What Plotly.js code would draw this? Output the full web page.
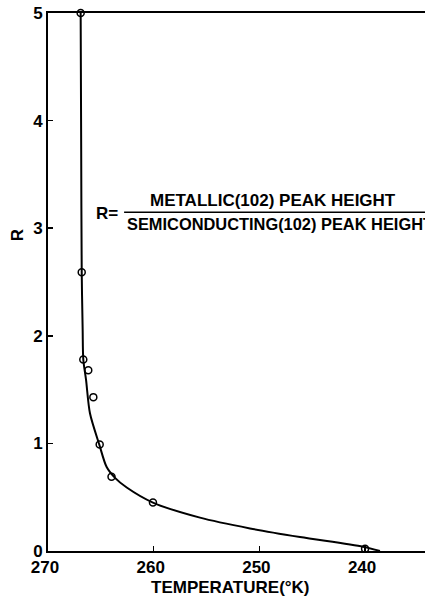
<!DOCTYPE html>
<html>
<head>
<meta charset="utf-8">
<script src="https://cdn.plot.ly/plotly-3.0.1.min.js"></script>
<style>html,body{margin:0;padding:0;background:#fff;}#chart{width:425px;height:596px;}</style>
</head>
<body>
<div id="chart"></div>
<script>
// Measured points (open circles)
const pointTemp = [266.91, 266.81, 266.66, 266.19, 265.71, 265.11, 263.99, 260.07, 240.0];
const pointR    = [5.0,    2.59,   1.78,   1.68,   1.43,   0.99,   0.69,   0.45,   0.02];

// Hand-drawn smooth curve
const curveTemp = [266.91, 266.86, 266.81, 266.72, 266.66, 266.40, 266.03, 265.15, 264.45, 263.66, 262.55, 260.07, 255.62, 250.89, 246.16, 240.20, 238.59];
const curveR    = [5.0,    3.73,   2.59,   2.05,   1.78,   1.59,   1.28,   0.99,   0.78,   0.68,   0.59,   0.45,   0.31,   0.21,   0.13,   0.04,   0.0];

const xTicks = [270, 260, 250, 240];
const yTicks = [0, 1, 2, 3, 4, 5];

const numeratorText = "METALLIC(102) PEAK HEIGHT";
const denominatorText = "SEMICONDUCTING(102) PEAK HEIGHT";
const xTitle = "TEMPERATURE(°K)";
const yTitle = "R";

const FONT = "Liberation Sans, Arial, sans-serif";

const traces = [
  {
    x: curveTemp, y: curveR, type: "scatter", mode: "lines",
    line: {color: "#000", width: 2, shape: "spline", smoothing: 0.8},
    hoverinfo: "skip", cliponaxis: false
  },
  {
    x: pointTemp, y: pointR, type: "scatter", mode: "markers",
    marker: {symbol: "circle-open", size: 7, color: "#000", line: {width: 1.5, color: "#000"}},
    cliponaxis: false
  }
];

const layout = {
  width: 425, height: 596,
  margin: {l: 48, r: 0, t: 13, b: 45},
  paper_bgcolor: "#fff", plot_bgcolor: "#fff",
  showlegend: false,
  font: {family: FONT, size: 17, color: "#000", weight: "bold"},
  xaxis: {
    range: [270, 234.33], autorange: false,
    tickvals: xTicks, ticktext: xTicks.map(String),
    ticks: "inside", ticklen: 5, tickwidth: 1.5, tickcolor: "#000",
    ticklabelshift: 3,
    showline: true, linecolor: "#000", linewidth: 2, mirror: true,
    showgrid: false, zeroline: false,
    tickfont: {family: FONT, size: 17, color: "#000", weight: "bold"}
  },
  yaxis: {
    range: [0, 5], autorange: false,
    tickvals: yTicks, ticktext: yTicks.map(String),
    ticks: "inside", ticklen: 5, tickwidth: 1.5, tickcolor: "#000",
    showline: true, linecolor: "#000", linewidth: 2,
    showgrid: false, zeroline: false,
    tickfont: {family: FONT, size: 17, color: "#000", weight: "bold"}
  },
  shapes: [
    {type: "line", xref: "x", yref: "y", x0: 262.8, x1: 234.33, y0: 3.148, y1: 3.148,
     line: {color: "#000", width: 1.5}}
  ],
  annotations: [
    {text: "R=", xref: "x", yref: "y", x: 265.65, y: 3.14, xanchor: "left", yanchor: "middle",
     showarrow: false, font: {family: FONT, size: 17, color: "#000", weight: "bold"}},
    {text: numeratorText, xref: "x", yref: "y", x: 260.54, y: 3.26, xanchor: "left", yanchor: "middle",
     showarrow: false, font: {family: FONT, size: 17, color: "#000", weight: "bold"}},
    {text: denominatorText, xref: "x", yref: "y", x: 262.72, y: 3.04, xanchor: "left", yanchor: "middle",
     showarrow: false, font: {family: FONT, size: 16.4, color: "#000", weight: "bold"}},
    {text: xTitle, xref: "paper", yref: "paper", x: 0.483, y: -0.067, xanchor: "center", yanchor: "middle",
     showarrow: false, font: {family: FONT, size: 17, color: "#000", weight: "bold"}},
    {text: yTitle, xref: "paper", yref: "paper", x: -0.082, y: 0.587, xanchor: "center", yanchor: "middle",
     textangle: -90, showarrow: false, font: {family: FONT, size: 17, color: "#000", weight: "bold"}}
  ]
};

Plotly.newPlot("chart", traces, layout, {staticPlot: true, displayModeBar: false});
</script>
</body>
</html>
